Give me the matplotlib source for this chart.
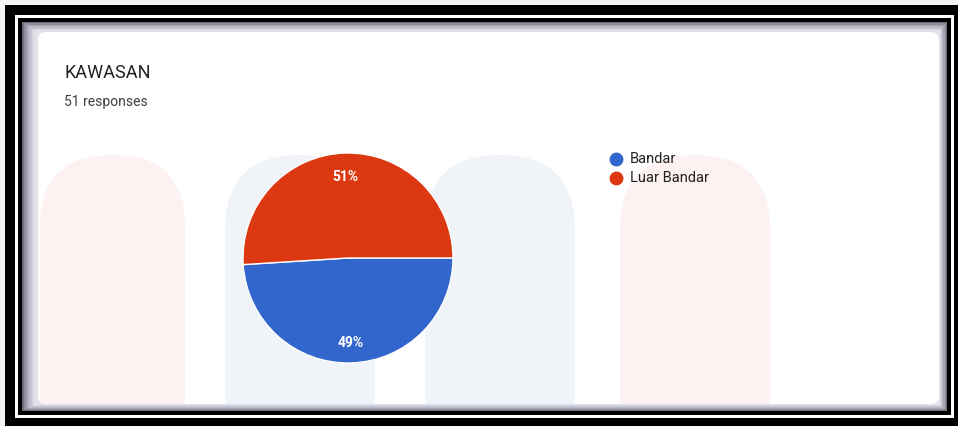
import matplotlib.pyplot as plt
from matplotlib.patches import Rectangle, FancyBboxPatch

# Chart data
categories = ["Bandar", "Luar Bandar"]
shares = [49, 51]
colors = ["#3366cc", "#dc3912"]
title = "KAWASAN"
subtitle = "51 responses"

W, H = 958, 426

fig = plt.figure(figsize=(W / 100, H / 100), dpi=100)
fig.patch.set_facecolor("#f4f4f4")
ax = fig.add_axes([0, 0, 1, 1])


def py(y):
    '''convert pixel y (from top) to data y'''
    return H - y


def rect(x0, y0, x1, y1, color, z=0):
    ax.add_patch(Rectangle((x0, py(y1)), x1 - x0, y1 - y0, facecolor=color,
                           edgecolor="none", zorder=z))


# frame layers
rect(5, 5, 958, 426, "black", 0)
rect(15, 15, 954, 418, "white", 1)
rect(18, 18, 951, 415, "black", 2)
# shadow bands round the card
shades = ["#6e6e7c", "#8c8c9a", "#a4a4b2", "#b8b8c6", "#c8c8d4", "#d6d6e0", "#e2e2ea"]
for i, c in enumerate(shades):
    rect(22 + i * 2, 22 + i * 1.4, 947 - i * 1.2, 411 - i * 1.0, c, 3)

card = FancyBboxPatch((38, py(404)), 901, 372,
                      boxstyle="round,pad=0,rounding_size=8",
                      facecolor="white", edgecolor="none", zorder=4)
ax.add_patch(card)

# faint watermark arches
marks = [(40, 185, "#fef1f1"), (225, 375, "#f0f4f8"),
         (425, 575, "#f0f4f8"), (620, 770, "#fef1f1")]
for x0, x1, c in marks:
    w = x1 - x0
    arch = FancyBboxPatch((x0, py(560)), w, 405,
                          boxstyle="round,pad=0,rounding_size=%d" % (w // 2),
                          facecolor=c, edgecolor="none", zorder=5)
    arch.set_clip_path(card)
    ax.add_patch(arch)

# titles
ax.text(64, py(73), title, fontsize=13, color="#202124", family="Roboto",
        va="center", ha="left", zorder=10)
ax.text(64, py(102), subtitle, fontsize=10, color="#3c4043", family="Roboto",
        va="center", ha="left", zorder=10)

# pie
wedges, texts, autotexts = ax.pie(
    shares, colors=colors, center=(348, py(258)), radius=105,
    startangle=0, counterclock=False, frame=True,
    autopct="%d%%", pctdistance=0.8,
    wedgeprops=dict(edgecolor="white", linewidth=1),
    textprops=dict(color="white", fontsize=10, family="Roboto",
                   fontweight="bold"))
for w in wedges:
    w.set_zorder(6)
for t in autotexts:
    t.set_zorder(7)
autotexts[0].set_y(py(343))
autotexts[1].set_y(py(177))

# legend
for i, (lab, c) in enumerate(zip(categories, colors)):
    yy = 159 + i * 19
    ax.scatter([616], [py(yy)], s=100, color=c, zorder=8, linewidths=0)
    ax.text(630, py(yy), lab, fontsize=10.5, color="#222222", family="Roboto",
            va="center", ha="left", zorder=8)

ax.set_xlim(0, W)
ax.set_ylim(0, H)
ax.set_aspect("auto")
ax.axis("off")

fig.savefig("out.png", dpi=100, facecolor=fig.get_facecolor())
